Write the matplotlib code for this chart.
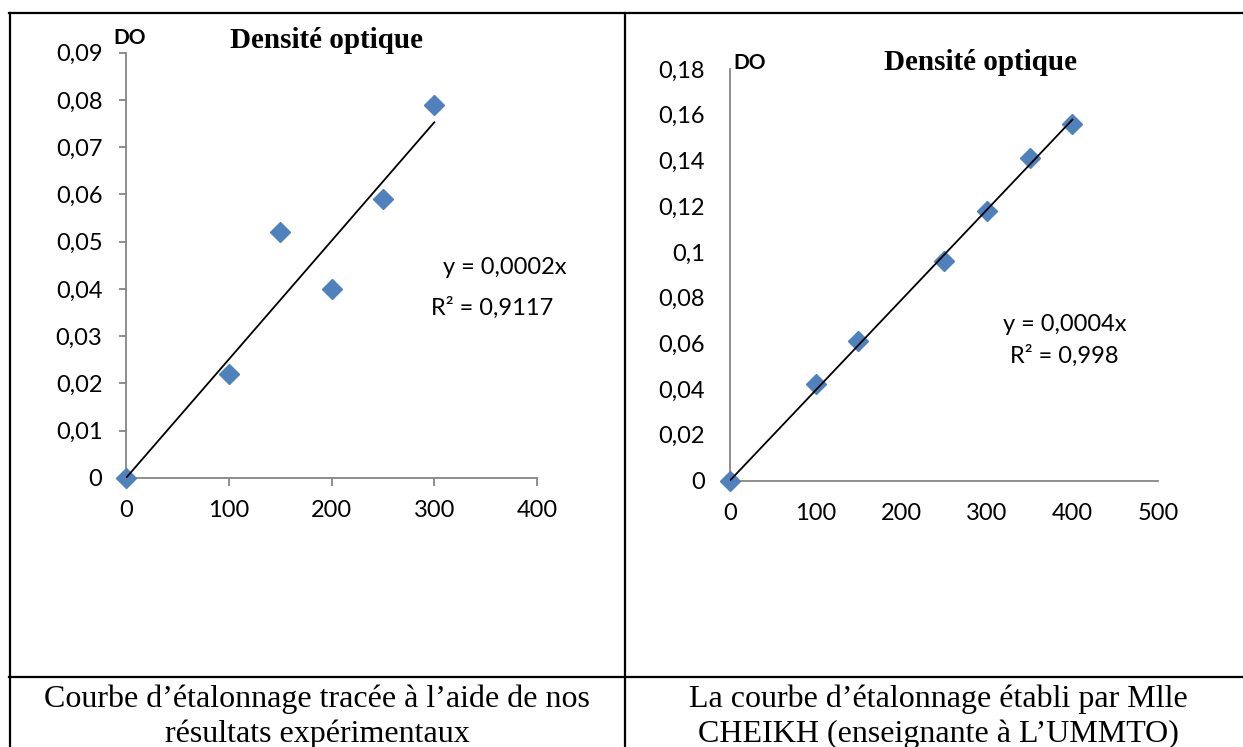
import matplotlib.pyplot as plt
import numpy as np
from matplotlib.lines import Line2D

W, H = 1243, 747

# left panel: our own measurements
left_conc = [0, 100, 150, 200, 250, 300]
left_do = [0, 0.022, 0.052, 0.040, 0.059, 0.079]
left_yticks = [0, 0.01, 0.02, 0.03, 0.04, 0.05, 0.06, 0.07, 0.08, 0.09]
left_xticks = [0, 100, 200, 300, 400]
left_eq = "y = 0,0002x"
left_r2 = "R² = 0,9117"

# right panel: reference curve
right_conc = [0, 100, 150, 250, 300, 350, 400]
right_do = [0, 0.042, 0.061, 0.096, 0.118, 0.141, 0.156]
right_yticks = [0, 0.02, 0.04, 0.06, 0.08, 0.1, 0.12, 0.14, 0.16, 0.18]
right_xticks = [0, 100, 200, 300, 400, 500]
right_eq = "y = 0,0004x"
right_r2 = "R² = 0,998"

captions_left = ["Courbe d’étalonnage tracée à l’aide de nos", "résultats expérimentaux"]
captions_right = ["La courbe d’étalonnage établi par Mlle", "CHEIKH (enseignante à L’UMMTO)"]

SANS = "Lato"
SERIF = "Liberation Serif"
BLUE = "#4F81BD"
GREY = "#868686"
TICK_FS = 17


def fx(px):
    return px / W


def fy(py):
    return 1 - py / H


def rect(x0, y0, x1, y1):
    return [fx(x0), fy(y1), fx(x1) - fx(x0), fy(y0) - fy(y1)]


def fmt(v):
    return f"{v:g}".replace(".", ",")


def draw_panel(ax, xs, ys, xticks, yticks, with_ticks):
    ax.plot(xs, ys, linestyle="none", marker="D", ms=10, color=BLUE, zorder=3,
            clip_on=False)
    # linear trend forced through the origin
    x = np.array(xs, dtype=float)
    y = np.array(ys, dtype=float)
    slope = (x * y).sum() / (x * x).sum()
    ax.plot([0, x.max()], [0, slope * x.max()], color="black", lw=1.3, zorder=4)
    ax.set_xlim(xticks[0], xticks[-1])
    ax.set_ylim(yticks[0], yticks[-1])
    ax.set_xticks(xticks)
    ax.set_yticks(yticks)
    ax.set_xticklabels([fmt(v) for v in xticks], fontfamily=SANS, fontsize=TICK_FS)
    ax.set_yticklabels([fmt(v) for v in yticks], fontfamily=SANS, fontsize=TICK_FS)
    for s in ["top", "right"]:
        ax.spines[s].set_visible(False)
    for s in ["left", "bottom"]:
        ax.spines[s].set_color(GREY)
        ax.spines[s].set_linewidth(1.3)
    if with_ticks:
        ax.tick_params(axis="x", direction="out", length=5.5, width=1.3, color=GREY, pad=10)
        ax.tick_params(axis="y", direction="out", length=5, width=1.3, color=GREY, pad=12)
    else:
        ax.tick_params(axis="x", length=0, pad=16)
        ax.tick_params(axis="y", length=0, pad=18)
    ax.patch.set_alpha(0)


fig = plt.figure(figsize=(W / 100, H / 100), dpi=100)

ax1 = fig.add_axes(rect(126, 52.7, 537, 478))
draw_panel(ax1, left_conc, left_do, left_xticks, left_yticks, True)

ax2 = fig.add_axes(rect(730, 69, 1158, 480.5))
draw_panel(ax2, right_conc, right_do, right_xticks, right_yticks, False)

# titles and axis names
fig.text(fx(326), fy(40), "Densité optique", fontfamily=SERIF, fontweight="bold",
         fontsize=21, ha="center", va="center")
fig.text(fx(980), fy(63), "Densité optique", fontfamily=SERIF, fontweight="bold",
         fontsize=21, ha="center", va="center")
fig.text(fx(130), fy(37.5), "DO", fontfamily=SANS, fontweight="bold", fontsize=15,
         ha="center", va="center")
fig.text(fx(750), fy(63), "DO", fontfamily=SANS, fontweight="bold", fontsize=15,
         ha="center", va="center")

# trend line labels
fig.text(fx(505), fy(268), left_eq, fontfamily=SANS, fontsize=17, ha="center", va="center")
fig.text(fx(492), fy(308), left_r2, fontfamily=SANS, fontsize=17, ha="center", va="center")
fig.text(fx(1065), fy(324), right_eq, fontfamily=SANS, fontsize=17, ha="center", va="center")
fig.text(fx(1064), fy(356), right_r2, fontfamily=SANS, fontsize=17, ha="center", va="center")

# table borders
lines = [
    ((9, 1243), (13, 13)),
    ((10, 10), (13, 747)),
    ((625, 625), (13, 747)),
    ((9, 1243), (677, 677)),
]
for xs, ys in lines:
    fig.add_artist(Line2D([fx(v) for v in xs], [fy(v) for v in ys],
                          transform=fig.transFigure, color="black", lw=1.6))

# captions
for i, (cl, cr) in enumerate(zip(captions_left, captions_right)):
    yb = 707 + 35 * i
    fig.text(fx(317), fy(yb), cl, fontfamily=SERIF, fontsize=23, ha="center", va="baseline")
    fig.text(fx(938), fy(yb), cr, fontfamily=SERIF, fontsize=23, ha="center", va="baseline")

fig.savefig("out.png", dpi=100)
